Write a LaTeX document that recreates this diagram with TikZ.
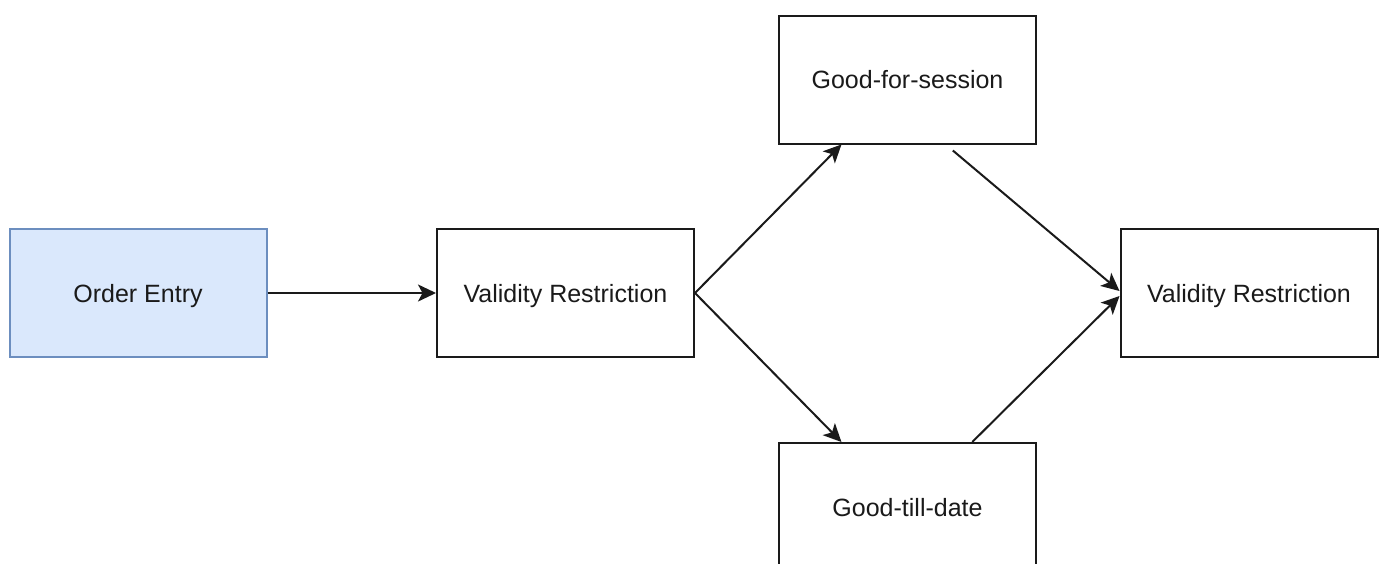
\documentclass[tikz,border=0pt]{standalone}
\usepackage{fontspec}
\setmainfont{Liberation Sans}
\usetikzlibrary{arrows.meta,calc}
\definecolor{entryfill}{HTML}{DAE8FC}
\definecolor{entrydraw}{HTML}{6C8EBF}
\definecolor{inkdark}{HTML}{1A1A1A}
\tikzset{
  box/.style={draw=inkdark, line width=2pt, fill=white, minimum width=257pt,
    minimum height=128pt, inner sep=0pt, font=\fontsize{25}{28}\selectfont,
    text=inkdark, text height=18pt, text depth=0pt},
  entrybox/.style={box, draw=entrydraw, fill=entryfill},
  flow/.style={draw=inkdark, line width=2pt,
    -{Stealth[length=18pt, width=17pt, inset=4.5pt]}}
}
\begin{document}
\begin{tikzpicture}[x=1pt, y=-1pt]
  \useasboundingbox (0,0) rectangle (1380,563);
  \clip (0,0) rectangle (1380,563);

  \node[entrybox] (oe)  at (138,293)   {Order Entry};
  \node[box]      (vr1) at (565.5,293) {Validity Restriction};
  \node[box]      (gfs) at (907.5,79.5){Good-for-session};
  \node[box]      (gtd) at (907.5,507) {Good-till-date};
  \node[box]      (vr2) at (1249,293)  {Validity Restriction};

  % attachment points on the branch boxes
  \coordinate (gfsIn)  at ($(gfs.south west)!0.245!(gfs.south east)$);
  \coordinate (gtdIn)  at ($(gtd.north west)!0.245!(gtd.north east)$);
  \coordinate (gfsOut) at ($(gfs.south west)!0.675!(gfs.south east)+(0,6)$);
  \coordinate (gtdOut) at ($(gtd.north west)!0.75!(gtd.north east)$);
  \coordinate (vr2a)   at ($(vr2.west)+(0,-2)$);
  \coordinate (vr2b)   at ($(vr2.west)+(0,3)$);

  \draw[flow] (oe.east) -- (vr1.west);
  \draw[flow] (vr1.east) -- (gfsIn);
  \draw[flow] (vr1.east) -- (gtdIn);
  \draw[flow] (gfsOut) -- (vr2a);
  \draw[flow] (gtdOut) -- (vr2b);
\end{tikzpicture}
\end{document}
